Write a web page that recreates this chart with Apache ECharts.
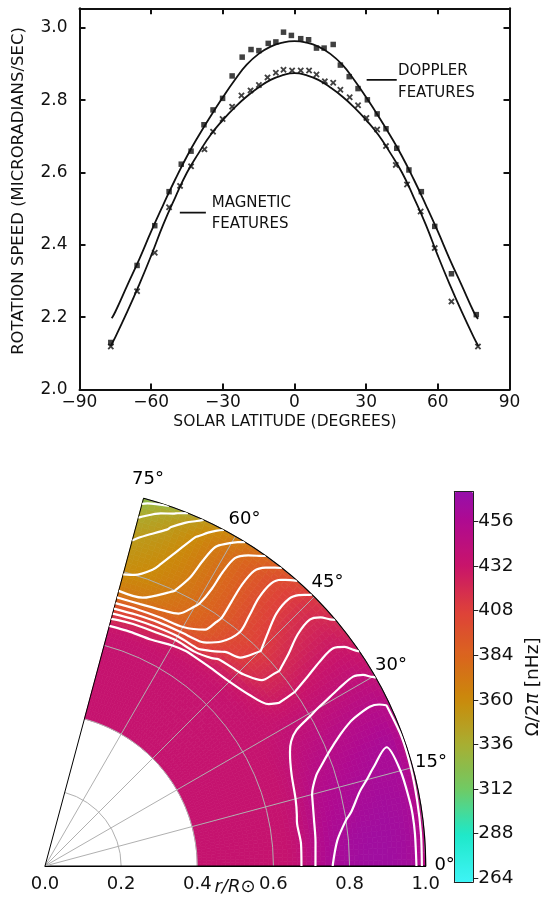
<!DOCTYPE html>
<html>
<head>
<meta charset="utf-8">
<script src="https://cdn.jsdelivr.net/npm/echarts@6.0.0/dist/echarts.min.js"></script>
<style>
html,body{margin:0;padding:0;background:#ffffff;}
#chart{width:541px;height:901px;}
</style>
</head>
<body>
<div id="chart"></div>
<script>
// ===== Top panel: solar rotation speed vs latitude =====
const xTickValues = [-90, -60, -30, 0, 30, 60, 90];
const yTickValues = [2.0, 2.2, 2.4, 2.6, 2.8, 3.0];

const dopplerLat = [-76.9, -65.9, -58.5, -52.5, -47.4, -43.3, -37.9, -34.1, -30.1, -26.1, -21.9, -18.2, -14.9, -11.0, -7.8, -4.6, -1.3, 2.6, 5.9, 9.2, 12.4, 16.2, 19.2, 22.9, 26.6, 30.5, 34.6, 38.3, 42.8, 47.9, 53.1, 58.7, 65.7, 76.1];
const dopplerVal = [2.130, 2.343, 2.453, 2.547, 2.623, 2.659, 2.732, 2.773, 2.805, 2.867, 2.919, 2.940, 2.937, 2.957, 2.961, 2.988, 2.979, 2.970, 2.967, 2.944, 2.944, 2.954, 2.897, 2.865, 2.832, 2.801, 2.762, 2.721, 2.667, 2.607, 2.547, 2.451, 2.320, 2.207];

const magneticLat = [-76.9, -65.9, -58.5, -52.5, -47.9, -43.3, -37.7, -34.1, -30.1, -26.1, -22.2, -18.4, -14.9, -11.3, -7.8, -4.6, -1.0, 2.6, 6.1, 9.2, 12.7, 16.2, 19.2, 23.1, 26.6, 30.1, 34.6, 38.3, 42.4, 47.1, 52.8, 58.7, 65.7, 76.8];
const magneticVal = [2.119, 2.272, 2.378, 2.504, 2.563, 2.617, 2.664, 2.713, 2.748, 2.782, 2.813, 2.827, 2.842, 2.863, 2.876, 2.884, 2.882, 2.882, 2.882, 2.871, 2.852, 2.848, 2.829, 2.808, 2.786, 2.751, 2.719, 2.673, 2.621, 2.567, 2.492, 2.391, 2.243, 2.119];

const dopplerCurveLat = [-76.5, -75, -70, -65, -60, -55, -50, -45, -40, -35, -30, -25, -20, -15, -10, -5, 0, 5, 10, 15, 20, 25, 30, 35, 40, 45, 50, 55, 60, 65, 70, 75, 76.8];
const dopplerCurveVal = [2.197, 2.215, 2.288, 2.360, 2.437, 2.510, 2.580, 2.645, 2.703, 2.757, 2.808, 2.856, 2.898, 2.928, 2.948, 2.959, 2.963, 2.959, 2.948, 2.928, 2.898, 2.856, 2.808, 2.757, 2.703, 2.645, 2.580, 2.510, 2.437, 2.360, 2.288, 2.215, 2.195];

const magneticCurveLat = [-77, -75, -70, -65, -60, -55, -50, -45, -40, -35, -30, -25, -20, -15, -10, -5, 0, 5, 10, 15, 20, 25, 30, 35, 40, 45, 50, 55, 60, 65, 70, 75, 77];
const magneticCurveVal = [2.120, 2.145, 2.215, 2.290, 2.370, 2.455, 2.530, 2.600, 2.655, 2.705, 2.745, 2.780, 2.810, 2.835, 2.856, 2.869, 2.875, 2.869, 2.856, 2.835, 2.810, 2.780, 2.745, 2.705, 2.655, 2.600, 2.530, 2.455, 2.370, 2.290, 2.215, 2.145, 2.120];

// annotation leader lines, in data units (latitude, speed)
const dopplerLeader = [[30.2, 2.856], [42.8, 2.856]];
const magneticLeader = [[-48.0, 2.489], [-37.1, 2.489]];

// ===== Bottom panel: internal rotation Omega/2pi [nHz] on (r, latitude) grid =====
const radii = [0.40, 0.45, 0.50, 0.55, 0.60, 0.625, 0.65, 0.675, 0.70, 0.725, 0.75, 0.80, 0.85, 0.90, 0.95, 0.975, 0.99, 1.00];
const latitudes = [0, 5, 10, 15, 20, 25, 30, 35, 40, 45, 50, 55, 60, 65, 70, 75];
const omegaLat0  = [435,435,435,435,435,435,436.5,440.2,447.5,453.5,459.5,464,466,466,464,460.5,450,446];
const omegaLat5  = [435,435,435,435,435,435,436.3,440,446.8,452.8,458,462.8,465,465.5,463.5,460.3,450.5,446.5];
const omegaLat10 = [435,435,435,435,435,435,436.5,440.5,446,451.8,455.5,459,462,463.5,462.5,459.8,451,447];
const omegaLat15 = [435,435,435,435,435,435,435.8,438.8,443.5,449.8,453.5,456.5,459,461,461,459.5,452,448];
const omegaLat20 = [435,435,435,435,435,435,435.5,437.8,441.5,445,448.3,452,455,458,459.8,458.5,452.5,448.5];
const omegaLat25 = [435,435,435,435,435,435,435.3,437,439,441.5,443.5,446,448.8,451,452,451.5,450.5,447];
const omegaLat30 = [435,435,435,435,435,435,435,435.5,436.5,437.5,438.3,439.3,440.7,442,443,442,440.3,439.5];
const omegaLat35 = [435,435,435,435,435,435,435,434.5,433,431,429.8,429.8,431.5,433,433.5,432,430,428.5];
const omegaLat40 = [435,435,435,435,435,435,435,433,430,425.5,421,419.6,422,424,425,423.5,421.5,420.5];
const omegaLat45 = [435,435,435,435,435,435,434.5,432,427,418.5,413,409.8,413,416,416.5,415,413,411.5];
const omegaLat50 = [435,435,435,435,435,435,434,431,424,413,405,400.5,402,404,404,401.5,398,395];
const omegaLat55 = [435,435,435,435,435,435,433.5,430.5,408,397,391.5,389,389.5,390,389,385,381,378.5];
const omegaLat60 = [435,435,435,435,435,435,433,429,407,390,383,379,377.5,377,375.5,371,368,365.5];
const omegaLat65 = [435,435,435,435,435,435,432.5,423,404.5,386,376,369.5,366,364,361,357,354,351.5];
const omegaLat70 = [435,435,435,435,435,435,432,421,401.5,384,370,362,358.5,354.5,349,344,338,332];
const omegaLat75 = [435,435,435,435,435,435,431.5,418.5,400,383,369,358.5,353.5,348.5,339.5,333,328.5,322];
const contourLevels = [330, 340, 350, 360, 370, 380, 390, 400, 410, 420, 430, 440, 450, 460];
const angleTickValues = [0, 15, 30, 45, 60, 75];
const cbarMin = 262;
const cbarMax = 472;
const cbarTicks = [264, 288, 312, 336, 360, 384, 408, 432, 456];

// ===== helpers =====
const V = [omegaLat0, omegaLat5, omegaLat10, omegaLat15, omegaLat20, omegaLat25, omegaLat30, omegaLat35,
           omegaLat40, omegaLat45, omegaLat50, omegaLat55, omegaLat60, omegaLat65, omegaLat70, omegaLat75];

const cmapStops = [
  [262, [62, 244, 246]], [288, [30, 232, 200]], [312, [112, 202, 100]], [336, [168, 174, 50]],
  [360, [202, 138, 10]], [384, [218, 100, 30]], [408, [222, 64, 58]], [432, [200, 20, 106]],
  [456, [176, 10, 144]], [472, [150, 16, 170]]
];
function colorFor(v) {
  if (v <= cmapStops[0][0]) v = cmapStops[0][0];
  if (v >= cmapStops[cmapStops.length - 1][0]) v = cmapStops[cmapStops.length - 1][0];
  for (let k = 0; k < cmapStops.length - 1; k++) {
    const a = cmapStops[k], b = cmapStops[k + 1];
    if (v >= a[0] && v <= b[0]) {
      const f = (v - a[0]) / (b[0] - a[0]);
      const c = [0, 1, 2].map(n => Math.round(a[1][n] + f * (b[1][n] - a[1][n])));
      return 'rgb(' + c.join(',') + ')';
    }
  }
  return '#000';
}
const cbarColors = [];
for (let k = 0; k <= 42; k++) cbarColors.push(colorFor(cbarMin + (cbarMax - cbarMin) * k / 42));

const zip = (a, b) => a.map((x, k) => [x, b[k]]);

// cells of the (r, latitude) grid
const cellData = [];
for (let j = 0; j < latitudes.length - 1; j++) {
  for (let i = 0; i < radii.length - 1; i++) {
    const avg = (V[j][i] + V[j][i + 1] + V[j + 1][i] + V[j + 1][i + 1]) / 4;
    cellData.push([(radii[i] + radii[i + 1]) / 2, (latitudes[j] + latitudes[j + 1]) / 2, avg, i, j]);
  }
}

function renderCell(params, api) {
  const i = api.value(3), j = api.value(4);
  const r0 = radii[i], r1 = radii[i + 1], t0 = latitudes[j], t1 = latitudes[j + 1];
  const v00 = V[j][i], v10 = V[j][i + 1], v01 = V[j + 1][i], v11 = V[j + 1][i + 1];
  const nr = Math.max(1, Math.round((r1 - r0) / 0.0125));
  const nt = 5;
  const children = [];
  for (let a = 0; a < nr; a++) {
    for (let b = 0; b < nt; b++) {
      const ra = r0 + (r1 - r0) * a / nr, rb = r0 + (r1 - r0) * (a + 1) / nr;
      const ta = t0 + (t1 - t0) * b / nt, tb = t0 + (t1 - t0) * (b + 1) / nt;
      const u = (a + 0.5) / nr, w = (b + 0.5) / nt;
      const v = v00 * (1 - u) * (1 - w) + v10 * u * (1 - w) + v01 * (1 - u) * w + v11 * u * w;
      const col = colorFor(v);
      children.push({
        type: 'polygon',
        shape: {points: [api.coord([ra, ta]), api.coord([rb, ta]), api.coord([rb, tb]), api.coord([ra, tb])]},
        style: {fill: col, stroke: col, lineWidth: 0.7}
      });
    }
  }
  return {type: 'group', children: children};
}

// marching squares contours on the grid, returned as polylines of [r, latitude]
function contourChains(level) {
  const nR = radii.length, nT = latitudes.length;
  const pts = {};
  const segs = [];
  const rKey = (j, i) => {
    const k = 'r' + j + '_' + i;
    if (!pts[k]) { const v1 = V[j][i], v2 = V[j][i + 1]; const f = (level - v1) / (v2 - v1);
      pts[k] = [radii[i] + f * (radii[i + 1] - radii[i]), latitudes[j]]; }
    return k;
  };
  const tKey = (i, j) => {
    const k = 't' + i + '_' + j;
    if (!pts[k]) { const v1 = V[j][i], v2 = V[j + 1][i]; const f = (level - v1) / (v2 - v1);
      pts[k] = [radii[i], latitudes[j] + f * (latitudes[j + 1] - latitudes[j])]; }
    return k;
  };
  for (let j = 0; j < nT - 1; j++) {
    for (let i = 0; i < nR - 1; i++) {
      const a = V[j][i], b = V[j][i + 1], c = V[j + 1][i + 1], d = V[j + 1][i];
      const idx = (a > level ? 1 : 0) | (b > level ? 2 : 0) | (c > level ? 4 : 0) | (d > level ? 8 : 0);
      if (idx === 0 || idx === 15) continue;
      const e0 = () => rKey(j, i), e1 = () => tKey(i + 1, j), e2 = () => rKey(j + 1, i), e3 = () => tKey(i, j);
      const add = (p, q) => segs.push([p(), q()]);
      const m = (a + b + c + d) / 4;
      switch (idx) {
        case 1: case 14: add(e3, e0); break;
        case 2: case 13: add(e0, e1); break;
        case 3: case 12: add(e3, e1); break;
        case 4: case 11: add(e1, e2); break;
        case 6: case 9: add(e0, e2); break;
        case 7: case 8: add(e2, e3); break;
        case 5: if (m > level) { add(e0, e1); add(e2, e3); } else { add(e3, e0); add(e1, e2); } break;
        case 10: if (m > level) { add(e3, e0); add(e1, e2); } else { add(e0, e1); add(e2, e3); } break;
      }
    }
  }
  const adj = {};
  segs.forEach((s, k) => { (adj[s[0]] = adj[s[0]] || []).push(k); (adj[s[1]] = adj[s[1]] || []).push(k); });
  const used = new Array(segs.length).fill(false);
  const chains = [];
  for (let k = 0; k < segs.length; k++) {
    if (used[k]) continue;
    used[k] = true;
    const chain = [segs[k][0], segs[k][1]];
    const extend = (front) => {
      while (true) {
        const end = front ? chain[chain.length - 1] : chain[0];
        const next = (adj[end] || []).find(n => !used[n]);
        if (next === undefined) break;
        used[next] = true;
        const s = segs[next];
        const other = s[0] === end ? s[1] : s[0];
        if (front) chain.push(other); else chain.unshift(other);
      }
    };
    extend(true); extend(false);
    chains.push(chain.map(key => pts[key]));
  }
  return chains;
}

// ===== option =====
const FONT = 'DejaVu Sans';
const INK = '#111';
const frameLine = {show: true, onZero: false, lineStyle: {color: INK, width: 2}};
const frameTick = (vals) => ({show: true, inside: true, length: 6, lineStyle: {color: INK, width: 2}, customValues: vals});

const series = [
  {type: 'line', xAxisIndex: 0, yAxisIndex: 0, data: zip(dopplerCurveLat, dopplerCurveVal), smooth: true,
   symbol: 'none', lineStyle: {color: INK, width: 1.8}, silent: true, z: 3},
  {type: 'line', xAxisIndex: 0, yAxisIndex: 0, data: zip(magneticCurveLat, magneticCurveVal), smooth: true,
   symbol: 'none', lineStyle: {color: INK, width: 1.8}, silent: true, z: 3},
  {type: 'scatter', xAxisIndex: 0, yAxisIndex: 0, data: zip(dopplerLat, dopplerVal), symbol: 'rect', symbolSize: 5.5,
   itemStyle: {color: INK}, silent: true, z: 4},
  {type: 'scatter', xAxisIndex: 0, yAxisIndex: 0, data: zip(magneticLat, magneticVal),
   symbol: 'path://M0,2 L2,0 L5,3 L8,0 L10,2 L7,5 L10,8 L8,10 L5,7 L2,10 L0,8 L3,5 Z', symbolSize: 6.5,
   itemStyle: {color: INK}, silent: true, z: 4},
  {type: 'line', xAxisIndex: 0, yAxisIndex: 0, data: dopplerLeader, symbol: 'none',
   lineStyle: {color: INK, width: 1.6}, silent: true},
  {type: 'line', xAxisIndex: 0, yAxisIndex: 0, data: magneticLeader, symbol: 'none',
   lineStyle: {color: INK, width: 1.6}, silent: true},
  {type: 'custom', coordinateSystem: 'polar', polarIndex: 0, data: cellData, renderItem: renderCell,
   z: 1, silent: true, clip: false}
];
const heatSeriesIndex = series.length - 1;

// angle tick labels placed through the polar coordinate system, just outside the rim
series.push({type: 'scatter', coordinateSystem: 'polar', polarIndex: 0, clip: false, silent: true, z: 12,
  data: angleTickValues.map(t => [1.051, t]), symbol: 'circle', symbolSize: 1, itemStyle: {color: '#ffffff'},
  label: {show: true, position: [0, 0], align: 'center', verticalAlign: 'middle',
    formatter: p => p.value[1] + '\u00b0', fontSize: 18, color: '#000', fontFamily: FONT,
    textBorderWidth: 0, opacity: 1}});

contourLevels.forEach(level => {
  contourChains(level).forEach(chain => {
    series.push({type: 'line', coordinateSystem: 'polar', polarIndex: 0, data: chain, symbol: 'none',
      smooth: 0.3, lineStyle: {color: '#ffffff', width: 2.2}, silent: true, z: 6});
  });
});

const option = {
  animation: false,
  backgroundColor: '#ffffff',
  textStyle: {fontFamily: FONT},
  grid: [
    {left: 79.5, top: 8.3, width: 430, height: 381.2, outerBoundsMode: 'none', containLabel: false},
    {left: 454.3, top: 491.7, width: 19, height: 390.3, outerBoundsMode: 'none', containLabel: false}
  ],
  xAxis: [
    {gridIndex: 0, type: 'value', min: -90, max: 90, interval: 30, position: 'bottom',
     axisLine: frameLine, axisTick: frameTick(xTickValues), splitLine: {show: false},
     axisLabel: {customValues: xTickValues, margin: 5, fontSize: 17, color: INK, fontFamily: FONT,
       formatter: v => (v < 0 ? '\u2212' + (-v) : String(v))}},
    {gridIndex: 0, type: 'value', min: -90, max: 90, interval: 30, position: 'top',
     axisLine: frameLine, axisTick: frameTick(xTickValues), axisLabel: {show: false}, splitLine: {show: false}},
    {gridIndex: 1, type: 'value', min: 0, max: 1, position: 'bottom', z: 10,
     axisLine: {show: true, onZero: false, lineStyle: {color: '#222', width: 1}}, axisTick: {show: false},
     axisLabel: {show: false}, splitLine: {show: false}},
    {gridIndex: 1, type: 'value', min: 0, max: 1, position: 'top', z: 10,
     axisLine: {show: true, onZero: false, lineStyle: {color: '#222', width: 1}}, axisTick: {show: false},
     axisLabel: {show: false}, splitLine: {show: false}}
  ],
  yAxis: [
    {gridIndex: 0, type: 'value', min: 2.0, max: 3.054, interval: 0.2, position: 'left',
     axisLine: frameLine, axisTick: frameTick(yTickValues), splitLine: {show: false},
     axisLabel: {customValues: yTickValues, margin: 12, fontSize: 17, color: INK,
       fontFamily: FONT, formatter: v => v.toFixed(1)}},
    {gridIndex: 0, type: 'value', min: 2.0, max: 3.054, interval: 0.2, position: 'right',
     axisLine: frameLine, axisTick: frameTick(yTickValues), axisLabel: {show: false}, splitLine: {show: false}},
    {gridIndex: 1, type: 'value', min: cbarMin, max: cbarMax, position: 'right', z: 10,
     axisLine: {show: true, onZero: false, lineStyle: {color: '#222', width: 1}},
     axisTick: {show: true, inside: false, length: 5, lineStyle: {color: '#222', width: 1}, customValues: cbarTicks},
     axisLabel: {customValues: cbarTicks, margin: 5, fontSize: 18.5, color: '#111', fontFamily: FONT},
     splitLine: {show: false},
     name: '{a|\u03a9/2}{b|\u03c0}{a| [nHz]}', nameLocation: 'middle', nameGap: 50,
     nameTextStyle: {fontSize: 18.5, color: '#111', fontFamily: FONT,
       rich: {a: {fontSize: 18.5, fontFamily: FONT, color: '#111'}, b: {fontSize: 18.5, fontFamily: FONT, fontStyle: 'italic', color: '#111'}}}},
    {gridIndex: 1, type: 'value', min: cbarMin, max: cbarMax, position: 'left', z: 10,
     axisLine: {show: true, onZero: false, lineStyle: {color: '#222', width: 1}}, axisTick: {show: false},
     axisLabel: {show: false}, splitLine: {show: false}}
  ],
  polar: {center: [45, 866], radius: [0, 380.7]},
  angleAxis: {type: 'value', min: 0, max: 75, interval: 15, startAngle: 0, endAngle: 75, clockwise: false, z: 3,
    axisLine: {show: true, lineStyle: {color: '#000', width: 1.2}},
    axisTick: {show: false},
    axisLabel: {show: false},
    splitLine: {show: true, lineStyle: {color: ['#000', '#b0b0b0', '#b0b0b0', '#b0b0b0', '#b0b0b0', '#000'], width: 1}}},
  radiusAxis: {type: 'value', min: 0, max: 1, interval: 0.2, z: 3,
    axisLine: {show: true, lineStyle: {color: '#000', width: 1.2}},
    axisTick: {show: false},
    axisLabel: {formatter: v => v.toFixed(1), fontSize: 18, color: '#111', fontFamily: FONT, margin: -9, verticalAlign: 'top'},
    splitLine: {show: true, lineStyle: {color: '#b0b0b0', width: 1}}},
  visualMap: {type: 'continuous', min: cbarMin, max: cbarMax, seriesIndex: heatSeriesIndex, dimension: 2,
    left: 454.3, top: 491.7, itemWidth: 19, itemHeight: 390.3, padding: 0, calculable: false, hoverLink: false,
    inRange: {color: cbarColors}, text: null, showLabel: false, z: 4},
  graphic: [
    {type: 'text', x: 18.5, y: 191, rotation: Math.PI / 2,
     style: {text: 'ROTATION SPEED (MICRORADIANS/SEC)', font: '16.5px "DejaVu Sans"', fill: INK, align: 'center', verticalAlign: 'middle'}},
    {type: 'text', x: 285, y: 422,
     style: {text: 'SOLAR LATITUDE (DEGREES)', font: '15.5px "DejaVu Sans"', fill: INK, align: 'center', verticalAlign: 'middle'}},
    {type: 'text', x: 398, y: 71, style: {text: 'DOPPLER', font: '15px "DejaVu Sans"', fill: INK, align: 'left', verticalAlign: 'middle'}},
    {type: 'text', x: 398, y: 93, style: {text: 'FEATURES', font: '15px "DejaVu Sans"', fill: INK, align: 'left', verticalAlign: 'middle'}},
    {type: 'text', x: 211.7, y: 203.3, style: {text: 'MAGNETIC', font: '15px "DejaVu Sans"', fill: INK, align: 'left', verticalAlign: 'middle'}},
    {type: 'text', x: 211.7, y: 224.5, style: {text: 'FEATURES', font: '15px "DejaVu Sans"', fill: INK, align: 'left', verticalAlign: 'middle'}},
    {type: 'text', x: 235, y: 887,
     style: {text: '{i|r/R}{n|\u2299}', align: 'center', verticalAlign: 'middle',
       rich: {i: {fontSize: 18, fontFamily: FONT, fontStyle: 'italic', fill: '#111'}, n: {fontSize: 18, fontFamily: FONT, fill: '#111'}}}}
  ],
  series: series
};

const chart = echarts.init(document.getElementById('chart'), null, {renderer: 'canvas', width: 541, height: 901});
chart.setOption(option);
</script>
</body>
</html>
